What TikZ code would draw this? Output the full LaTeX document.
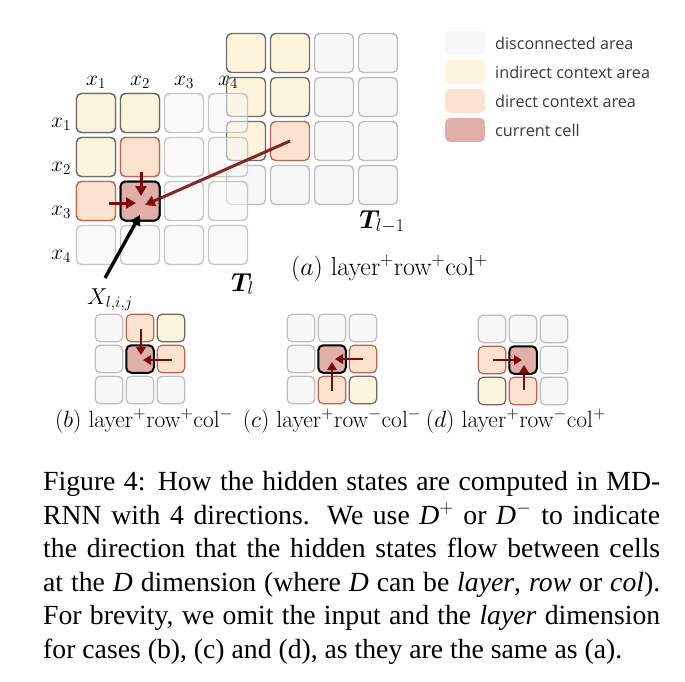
\RequirePackage{fix-cm}
\documentclass[tikz,border=0pt]{standalone}
\usepackage{amsmath}
\usepackage{fontspec}
\usepackage{bm}
\newfontfamily\capfont{Liberation Serif}
\newfontfamily\legfont{Open Sans}
\usetikzlibrary{arrows.meta,calc}
\definecolor{disF}{HTML}{F7F7F8}
\definecolor{disB}{HTML}{BDBDBD}
\definecolor{indF}{HTML}{FDF4DC}
\definecolor{indB}{HTML}{6A6A6A}
\definecolor{dirF}{HTML}{FBE3D0}
\definecolor{dirB}{HTML}{C0654C}
\definecolor{curF}{HTML}{E0AFA8}
\definecolor{arrC}{HTML}{7A0A0A}
\definecolor{legT}{HTML}{3A3A3A}
\begin{document}
\begin{tikzpicture}[x=1pt,y=-1pt,
  cellbase/.style={draw, rounded corners=5pt, inner sep=0pt},
  bigcell/.style={cellbase, minimum size=39pt, line width=1.4pt},
  smallcell/.style={cellbase, minimum size=27.5pt, line width=1.2pt},
  cdis/.style={fill=disF, draw=disB},
  cind/.style={fill=indF, draw=indB},
  cdir/.style={fill=dirF, draw=dirB},
  ccur/.style={fill=curF, draw=black, line width=2pt},
  swatch/.style={rounded corners=5pt, minimum width=40pt, minimum height=24pt, inner sep=0pt},
  legtext/.style={anchor=west, inner sep=0pt, text=legT, font=\legfont\fontsize{16.2}{19}\selectfont},
  lab/.style={inner sep=0pt, font=\fontsize{21.5}{25}\selectfont},
  tlab/.style={inner sep=0pt, anchor=base, font=\fontsize{26}{30}\selectfont},
  sublab/.style={inner sep=0pt, anchor=base, font=\fontsize{23.5}{27}\selectfont},
  redarrow/.style={draw=arrC, line width=3pt, -{Triangle[length=10pt,width=11pt]}},
  smallarrow/.style={draw=arrC, line width=2.6pt, -{Triangle[length=8pt,width=9.5pt]}},
  capline/.style={anchor=base west, inner sep=0pt, font=\capfont\fontsize{27.7}{33}\selectfont}
]
\fill[white] (0,0) rectangle (685,681);
\useasboundingbox (0,0) rectangle (685,681);

% ---- layer l-1 grid
\foreach \r/\c/\k in {1/1/cind,1/2/cind,1/3/cdis,1/4/cdis,
                      2/1/cind,2/2/cind,2/3/cdis,2/4/cdis,
                      3/1/cind,3/2/cdir,3/3/cdis,3/4/cdis,
                      4/1/cdis,4/2/cdis,4/3/cdis,4/4/cdis}
  \node[bigcell,\k] (P\r\c) at ({246+44*(\c-1)},{53+44*(\r-1)}) {};

% ---- layer l grid
\foreach \r/\c/\k in {1/1/cind,1/2/cind,1/3/cdis,1/4/cdis,
                      2/1/cind,2/2/cdir,2/3/cdis,2/4/cdis,
                      3/1/cdir,3/2/ccur,3/3/cdis,3/4/cdis,
                      4/1/cdis,4/2/cdis,4/3/cdis,4/4/cdis}
  \node[bigcell,\k,fill opacity=0.5,draw opacity=0.85] (L\r\c) at ({96+44*(\c-1)},{113+44*(\r-1)}) {};
% opaque re-fill of the coloured cells of layer l (they do not overlap layer l-1)
\foreach \r/\c/\k in {1/1/cind,1/2/cind,2/1/cind,2/2/cdir,3/1/cdir,3/2/ccur}
  \node[bigcell,\k] (M\r\c) at ({96+44*(\c-1)},{113+44*(\r-1)}) {};

% axis labels
\foreach \i in {1,2,3,4}{
  \node[lab,anchor=base] (cx\i) at ({96+44*(\i-1)},85) {$x_{\i}$};
  \node[lab,anchor=base] (rx\i) at (61,{127+44*(\i-1)}) {$x_{\i}$};
}

\node[tlab] (Tl) at (242.5,291) {$\bm{T}_{l}$};
\node[tlab] (Tlm) at (382,228) {$\bm{T}_{l-1}$};
\node[inner sep=0pt,anchor=base,font=\fontsize{23}{27}\selectfont] (Xl) at (110,304) {$X_{l,i,j}$};
\node[tlab] (capA) at (389.5,275) {$(a)$ layer$^{+}$row$^{+}$col$^{+}$};

% arrows in layer l
\draw[redarrow] ($(L22)+(1,15)$) -- ($(L32)+(1,-5)$);
\draw[redarrow] ($(L31)+(13,2)$) -- ($(L32)+(-4,2)$);
\draw[redarrow, draw opacity=0.88] (P32.center) -- ($(L32)+(5,4)$);
\coordinate (xs) at (105,278);
\draw[black, line width=3.4pt, -{Triangle[length=10pt,width=11pt]}] (xs) -- ($(L32)+(0,14)$);

% ---- legend
\node[swatch,fill=disF] (s1) at (465,43) {};
\node[swatch,fill=indF] (s2) at (465,72) {};
\node[swatch,fill=dirF] (s3) at (465,101) {};
\node[swatch,fill=curF] (s4) at (465,130) {};
\node[legtext] (t1) at (495,43) {disconnected area};
\node[legtext] (t2) at (495,72) {indirect context area};
\node[legtext] (t3) at (495,101) {direct context area};
\node[legtext] (t4) at (495,130) {current cell};

% ---- (b)
\foreach \r/\c/\k in {1/1/cdis,1/2/cdir,1/3/cind,
                      2/1/cdis,2/2/ccur,2/3/cdir,
                      3/1/cdis,3/2/cdis,3/3/cdis}
  \node[smallcell,\k] (B\r\c) at ({109+31*(\c-1)},{328+31*(\r-1)}) {};
\draw[smallarrow] ($(B12)+(1,1)$) -- ($(B22)+(1,-4)$);
\draw[smallarrow] ($(B23)+(1,1)$) -- ($(B22)+(3,1)$);
\node[sublab] (capB) at (144,427) {$(b)$ layer$^{+}$row$^{+}$col$^{-}$};

% ---- (c)
\foreach \r/\c/\k in {1/1/cdis,1/2/cdis,1/3/cdis,
                      2/1/cdis,2/2/ccur,2/3/cdir,
                      3/1/cdis,3/2/cdir,3/3/cind}
  \node[smallcell,\k] (C\r\c) at ({301+31*(\c-1)},{328+31*(\r-1)}) {};
\draw[smallarrow] ($(C32)+(0,1)$) -- ($(C22)+(0,3)$);
\draw[smallarrow] ($(C23)+(0,0)$) -- ($(C22)+(3,0)$);
\node[sublab] (capC) at (332,427) {$(c)$ layer$^{+}$row$^{-}$col$^{-}$};

% ---- (d)
\foreach \r/\c/\k in {1/1/cdis,1/2/cdis,1/3/cdis,
                      2/1/cdir,2/2/ccur,2/3/cdis,
                      3/1/cind,3/2/cdir,3/3/cdis}
  \node[smallcell,\k] (D\r\c) at ({492+31*(\c-1)},{329+31*(\r-1)}) {};
\draw[smallarrow] ($(D21)+(1,0)$) -- ($(D22)+(-1,0)$);
\draw[smallarrow] ($(D32)+(1,-1)$) -- ($(D22)+(1,5)$);
\node[sublab] (capD) at (516,427) {$(d)$ layer$^{+}$row$^{-}$col$^{+}$};

% ---- caption
\node[capline] (c1) at (43,490) {\makebox[617pt][s]{Figure 4: How the hidden states are computed in MD-}};
\node[capline] (c2) at (43,524) {\makebox[617pt][s]{RNN with 4 directions. We use \textit{D}$^{+}$ or \textit{D}$^{-}$ to indicate}};
\node[capline] (c3) at (43,557.5) {\makebox[617pt][s]{the direction that the hidden states flow between cells}};
\node[capline] (c4) at (43,591) {\makebox[617pt][s]{at the \textit{D} dimension (where \textit{D} can be \textit{layer}, \textit{row} or \textit{col}).}};
\node[capline] (c5) at (43,624.5) {\makebox[617pt][s]{For brevity, we omit the input and the \textit{layer} dimension}};
\node[capline] (c6) at (43,658) {for cases (b), (c) and (d), as they are the same as (a).};
\end{tikzpicture}
\end{document}
